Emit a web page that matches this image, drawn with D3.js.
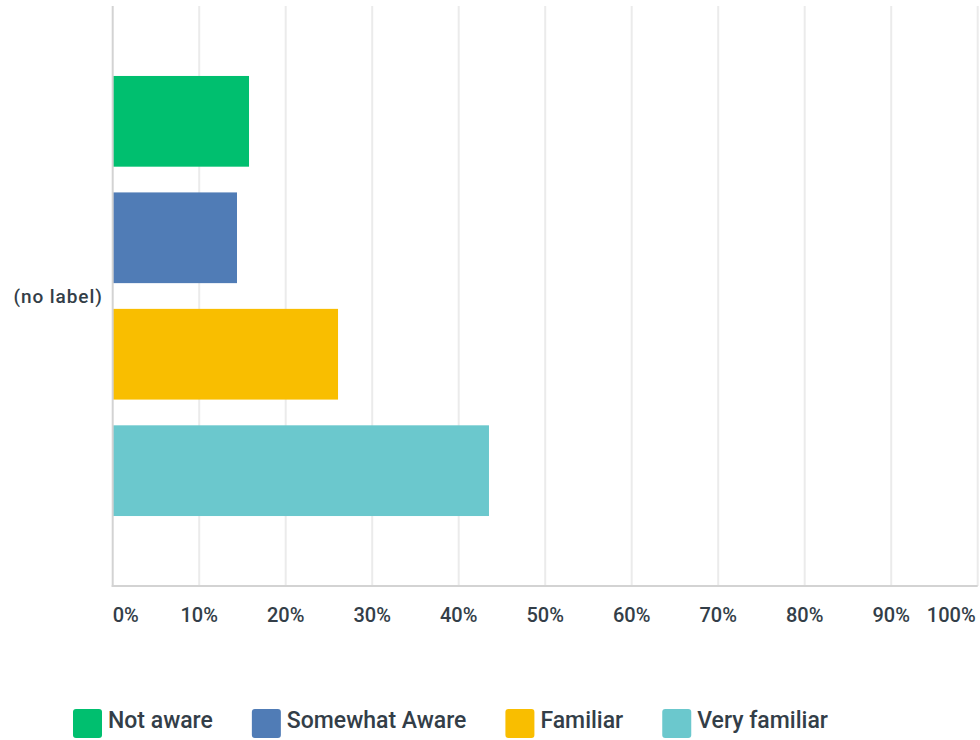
<!DOCTYPE html>
<html>
<head>
<meta charset="utf-8">
<script src="https://cdn.jsdelivr.net/npm/d3@7"></script>
<style>
  html, body { margin: 0; padding: 0; background: #fff; }
  svg { display: block; }
</style>
</head>
<body>
<svg id="chart" width="980" height="740"></svg>
<script>
const categories = ["(no label)"];
const seriesNames = ["Not aware", "Somewhat Aware", "Familiar", "Very familiar"];
const seriesColors = ["#00bf6f", "#507cb6", "#f9be00", "#6bc8cd"];
const seriesValues = [15.76, 14.37, 26.05, 43.50];
const tickValues = [0, 10, 20, 30, 40, 50, 60, 70, 80, 90, 100];
const tickLabels = ["0%", "10%", "20%", "30%", "40%", "50%", "60%", "70%", "80%", "90%", "100%"];

const svg = d3.select("#chart");
const textColor = "#333e48";
const font = "Roboto, 'Open Sans', sans-serif";

const plotLeft = 112.7, plotRight = 977.7, plotTop = 6, plotBottom = 586;

const x = d3.scaleLinear().domain([0, 100]).range([plotLeft, plotRight]);
const yOuter = d3.scaleBand().domain(categories).range([plotTop, plotBottom])
  .paddingInner(0).paddingOuter(0.159);
const yInner = d3.scaleBand().domain(seriesNames).range([0, yOuter.bandwidth()])
  .paddingInner(0.221).paddingOuter(0);

// gridlines
svg.append("g").selectAll("line")
  .data(tickValues.filter(v => v > 0))
  .join("line")
  .attr("x1", d => x(d)).attr("x2", d => x(d))
  .attr("y1", plotTop).attr("y2", plotBottom)
  .attr("stroke", "#ebebeb").attr("stroke-width", 2);

// bars
const g = svg.append("g");
categories.forEach(cat => {
  g.selectAll("rect.bar")
    .data(seriesNames.map((s, i) => ({ s, v: seriesValues[i], c: seriesColors[i] })))
    .join("rect")
    .attr("class", "bar")
    .attr("x", x(0))
    .attr("y", d => yOuter(cat) + yInner(d.s))
    .attr("width", d => x(d.v) - x(0))
    .attr("height", yInner.bandwidth())
    .attr("fill", d => d.c);
});

// axes lines
svg.append("line")
  .attr("x1", plotLeft).attr("x2", plotLeft)
  .attr("y1", plotTop).attr("y2", plotBottom + 1)
  .attr("stroke", "#d3d3d3").attr("stroke-width", 2);
svg.append("line")
  .attr("x1", plotLeft - 1).attr("x2", plotRight)
  .attr("y1", plotBottom).attr("y2", plotBottom)
  .attr("stroke", "#d3d3d3").attr("stroke-width", 2);

// x tick labels
svg.append("g").selectAll("text")
  .data(tickValues)
  .join("text")
  .attr("x", (d, i) => i === tickValues.length - 1 ? x(d) - 2 : x(d))
  .attr("y", 622)
  .attr("text-anchor", (d, i) => i === 0 ? "start" : (i === tickValues.length - 1 ? "end" : "middle"))
  .attr("font-family", font)
  .attr("font-weight", 500)
  .attr("font-size", 20)
  .attr("fill", textColor)
  .text((d, i) => tickLabels[i]);

// category label
svg.append("g").selectAll("text")
  .data(categories)
  .join("text")
  .attr("x", plotLeft - 10)
  .attr("y", d => yOuter(d) + yOuter.bandwidth() / 2)
  .attr("dy", "0.35em")
  .attr("text-anchor", "end")
  .attr("font-family", font)
  .attr("font-weight", 500)
  .attr("font-size", 19)
  .attr("letter-spacing", 0.9)
  .attr("fill", textColor)
  .text(d => d);

// legend
const legend = svg.append("g");
let lx = 73;
seriesNames.forEach((name, i) => {
  const item = legend.append("g");
  item.append("rect")
    .attr("x", lx).attr("y", 709)
    .attr("width", 29).attr("height", 29)
    .attr("rx", 3).attr("ry", 3)
    .attr("fill", seriesColors[i]);
  const t = item.append("text")
    .attr("x", lx + 35).attr("y", 727.5)
    .attr("font-family", font)
    .attr("font-weight", 500)
    .attr("font-size", 23)
    .attr("fill", textColor)
    .text(name);
  lx += 35 + t.node().getComputedTextLength() + 39;
});
</script>
</body>
</html>
